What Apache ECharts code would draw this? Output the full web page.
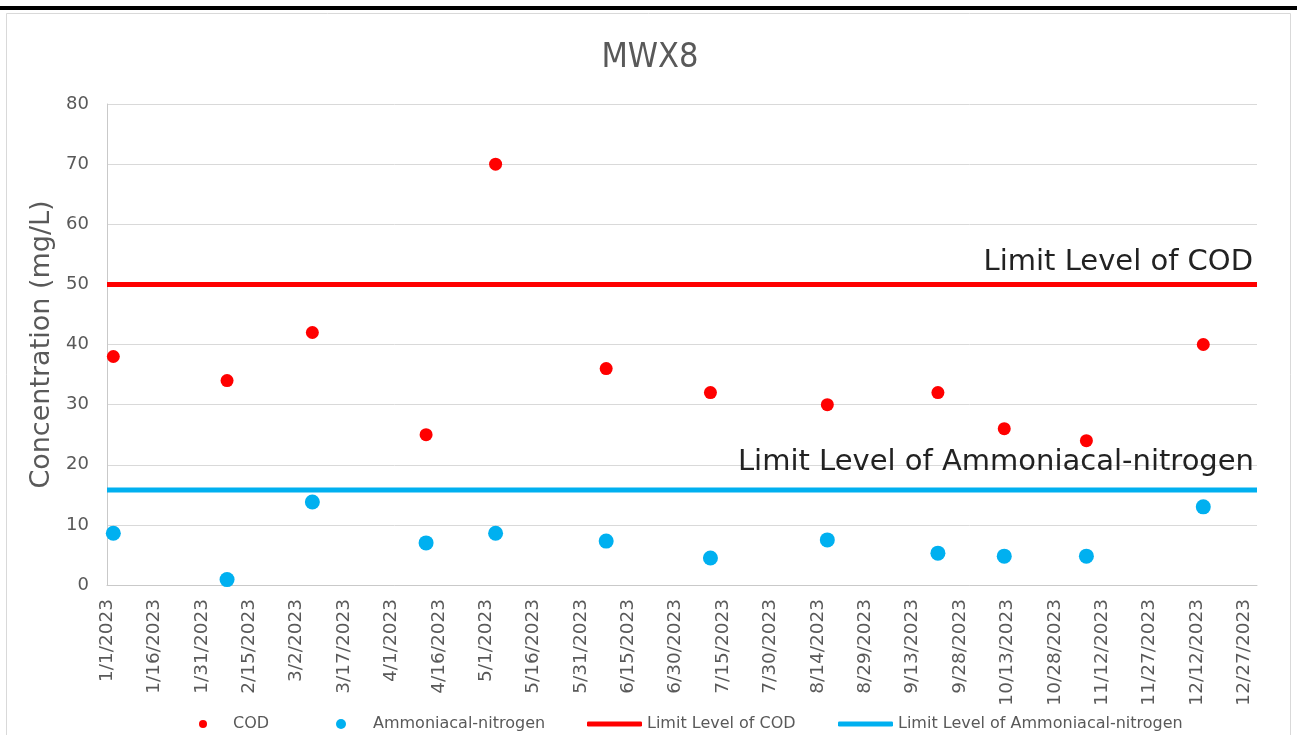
<!DOCTYPE html>
<html>
<head>
<meta charset="utf-8">
<script src="https://cdn.jsdelivr.net/npm/echarts@6/dist/echarts.min.js"></script>
<style>
html,body{margin:0;padding:0;background:#fff;}
#chart{width:1300px;height:735px;}
</style>
</head>
<body>
<div id="chart"></div>
<script>
// ---- data ----
const sampleDates = ['2023-01-03','2023-02-08','2023-03-07','2023-04-12','2023-05-04','2023-06-08',
                     '2023-07-11','2023-08-17','2023-09-21','2023-10-12','2023-11-07','2023-12-14'];
const codValues = [38, 34, 42, 25, 70, 36, 32, 30, 32, 26, 24, 40];
const nh3Values = [8.6, 0.9, 13.8, 7.0, 8.6, 7.3, 4.5, 7.5, 5.3, 4.8, 4.8, 13.0];
const limitCOD = 50;
const limitNH3 = 15.8;
const axisStartDate = '2023-01-01';
const axisEndDate = '2023-12-31';
const tickStepDays = 15;
const yTicks = {min: 0, max: 80, step: 10};
const seriesNames = ['COD', 'Ammoniacal-nitrogen', 'Limit Level of COD', 'Limit Level of Ammoniacal-nitrogen'];

// ---- helpers ----
const DAY = 86400000;
function toUTC(s){ const p = s.split('-').map(Number); return Date.UTC(p[0], p[1]-1, p[2]); }
const t0 = toUTC(axisStartDate);
function dayOf(s){ return Math.round((toUTC(s) - t0) / DAY); }
function fmtDay(v){ const d = new Date(t0 + v*DAY); return (d.getUTCMonth()+1) + '/' + d.getUTCDate() + '/' + d.getUTCFullYear(); }
const xMin = 0, xMax = dayOf(axisEndDate);

const codData = sampleDates.map((s,i)=>[dayOf(s), codValues[i]]);
const nh3Data = sampleDates.map((s,i)=>[dayOf(s), nh3Values[i]]);

const FONT = '"DejaVu Sans", Verdana, sans-serif';
const GREY = '#595959';
const RED = '#FF0000';
const BLUE = '#00B0F0';

const chart = echarts.init(document.getElementById('chart'), null, {renderer:'canvas'});
function lt(padLeft){ return {color: GREY, fontSize: 16, fontFamily: FONT, padding:[0,0,0,padLeft]}; }
chart.setOption({
  animation: false,
  backgroundColor: '#fff',
  title: {
    text: 'MWX8', left: 'center', top: 36,
    textStyle: {color: GREY, fontSize: 34, fontWeight: 'normal', fontFamily: '"DejaVu Sans Condensed", "DejaVu Sans", sans-serif'}
  },
  graphic: [
    {type:'rect', shape:{x:0, y:6, width:1297, height:4}, style:{fill:'#000'}, silent:true},
    {type:'rect', shape:{x:6.5, y:13.5, width:1284, height:740}, style:{fill:'none', stroke:'#d9d9d9', lineWidth:1}, silent:true}
  ],
  legend: [
    {data:[seriesNames[0]], left:199, top:716, padding:0, itemWidth:8, itemHeight:8, icon:'circle', textStyle:lt(21), selectedMode:false},
    {data:[seriesNames[1]], left:336, top:716, padding:0, itemWidth:10, itemHeight:10, icon:'circle', textStyle:lt(22), selectedMode:false},
    {data:[seriesNames[2]], left:587, top:716, padding:0, itemWidth:55, itemHeight:5, icon:'roundRect', textStyle:lt(0), selectedMode:false},
    {data:[seriesNames[3]], left:838, top:716, padding:0, itemWidth:55, itemHeight:5, icon:'roundRect', textStyle:lt(0), selectedMode:false}
  ],
  grid: {left:107, right:43, top:104, bottom:150, containLabel:false},
  xAxis: {
    type:'value', min:xMin, max:xMax, interval:tickStepDays,
    axisLine:{show:true, lineStyle:{color:'#c9c9c9', width:1}},
    axisTick:{show:false},
    splitLine:{show:false},
    axisLabel:{rotate:90, margin:14, color:GREY, fontSize:18.5, fontFamily:FONT, formatter:fmtDay, showMaxLabel:false, showMinLabel:true}
  },
  yAxis: {
    type:'value', min:yTicks.min, max:yTicks.max, interval:yTicks.step,
    name:'Concentration (mg/L)', nameLocation:'middle', nameGap:46,
    nameTextStyle:{color:GREY, fontSize:27, fontFamily:FONT},
    axisLine:{show:true, lineStyle:{color:'#c9c9c9', width:1}},
    axisTick:{show:false},
    splitLine:{show:true, lineStyle:{color:'#d9d9d9', width:1}},
    axisLabel:{margin:18, color:GREY, fontSize:18, fontFamily:FONT}
  },
  series: [
    {
      name: seriesNames[2], type:'line', data:[[xMin, limitCOD],[xMax, limitCOD]],
      symbol:'none', lineStyle:{color:RED, width:5}, itemStyle:{color:RED}, z:2,
      endLabel:{show:true, formatter:seriesNames[2], distance:0, align:'right', verticalAlign:'bottom', offset:[-4,-7],
        color:'#222', fontSize:29, fontFamily:FONT}
    },
    {
      name: seriesNames[3], type:'line', data:[[xMin, limitNH3],[xMax, limitNH3]],
      symbol:'none', lineStyle:{color:BLUE, width:5}, itemStyle:{color:BLUE}, z:2,
      endLabel:{show:true, formatter:seriesNames[3], distance:0, align:'right', verticalAlign:'bottom', offset:[-3,-13],
        color:'#222', fontSize:29, fontFamily:FONT}
    },
    {
      name: seriesNames[0], type:'scatter', data:codData, symbol:'circle', symbolSize:13,
      itemStyle:{color:RED, opacity:1}, z:3
    },
    {
      name: seriesNames[1], type:'scatter', data:nh3Data, symbol:'circle', symbolSize:15,
      itemStyle:{color:BLUE, opacity:1}, z:3
    }
  ]
});
</script>
</body>
</html>
